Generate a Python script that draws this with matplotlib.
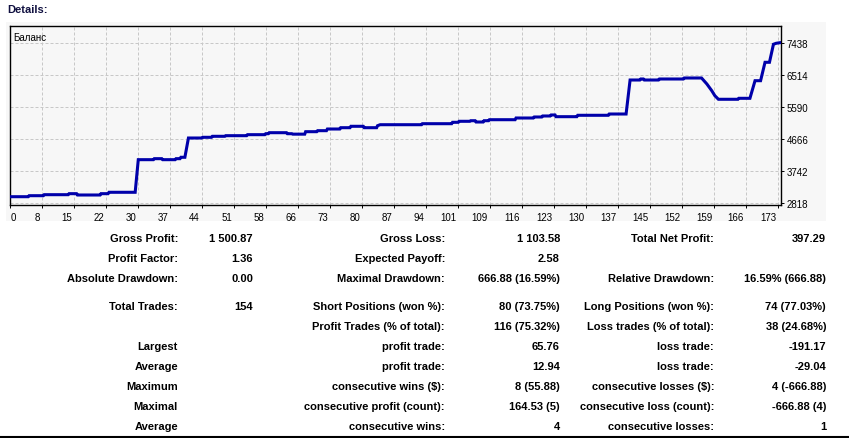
import matplotlib
matplotlib.use("Agg")
import matplotlib.pyplot as plt
import matplotlib.transforms as mtransforms
from matplotlib.patches import Rectangle
import numpy as np

# balance curve (trade number, balance)
trade_x = [0, 4.1, 4.3, 7.5, 7.7, 13.1, 13.3, 15.0, 15.2, 20.3, 20.5, 22.1, 22.3, 28.2,
           28.9, 32.3, 32.5, 34.2, 34.4, 37.2, 37.4, 38.3, 38.5, 39.4, 40.2, 43.2, 43.4,
           45.4, 45.6, 48.4, 48.6, 53.3, 53.5, 57.4, 57.6, 58.2, 58.4, 62.3, 62.5, 63.5,
           63.7, 66.4, 66.6, 69.1, 69.3, 71.3, 71.5, 74.3, 74.5, 76.6, 76.8, 79.6, 79.8,
           82.6, 82.8, 83.4, 92.7, 92.9, 99.5, 99.7, 101.0, 101.2, 103.6, 103.8, 104.8,
           105.0, 106.6, 106.8, 107.8, 108.0, 113.8, 114.0, 117.9, 118.1, 119.8, 120.0,
           121.7, 121.9, 122.8, 123.0, 127.7, 127.9, 134.8, 135.0, 138.8, 139.7, 141.9,
           142.1, 142.7, 142.9, 146.1, 146.3, 151.7, 151.9, 155.8, 157.0, 158.1, 158.8,
           159.6, 164.0, 164.2, 166.7, 167.85, 169.1, 170.1, 171.1, 172.0, 172.6, 173.7]
balance = [2999, 2999, 3028, 3028, 3057, 3057, 3086, 3086, 3048, 3048, 3086, 3086, 3126, 3126,
           4065, 4065, 4094, 4094, 4065, 4065, 4094, 4094, 4134, 4134, 4689, 4689, 4709,
           4709, 4738, 4738, 4756, 4756, 4785, 4785, 4813, 4813, 4842, 4842, 4813, 4813,
           4800, 4800, 4871, 4871, 4900, 4900, 4948, 4948, 4986, 4986, 5026, 5026, 4986,
           4986, 5043, 5072, 5072, 5101, 5101, 5141, 5141, 5170, 5170, 5187, 5187,
           5150, 5150, 5187, 5187, 5216, 5216, 5265, 5265, 5294, 5294, 5323,
           5323, 5352, 5352, 5303, 5303, 5343, 5343, 5380, 5380, 6359, 6359,
           6388, 6388, 6359, 6359, 6388, 6388, 6417, 6417, 6244, 6051, 5907,
           5804, 5804, 5832, 5832, 6339, 6339, 6869, 6869, 7388, 7416, 7438]

y_ticks = [2818, 3742, 4666, 5590, 6514, 7438]
x_labels = [0, 8, 15, 22, 30, 37, 44, 51, 58, 66, 73, 80, 87, 94, 101, 109, 116,
            123, 130, 137, 145, 152, 159, 166, 173]
x_step = 7.21

# report table
col1 = ["Gross Profit:", "Profit Factor:", "Absolute Drawdown:", "Total Trades:", "",
        "Largest", "Average", "Maximum", "Maximal", "Average"]
col2 = ["1 500.87", "1.36", "0.00", "154", "", "", "", "", "", ""]
col3 = ["Gross Loss:", "Expected Payoff:", "Maximal Drawdown:", "Short Positions (won %):",
        "Profit Trades (% of total):", "profit trade:", "profit trade:",
        "consecutive wins ($):", "consecutive profit (count):", "consecutive wins:"]
col4 = ["1 103.58", "2.58", "666.88 (16.59%)", "80 (73.75%)", "116 (75.32%)", "65.76",
        "12.94", "8 (55.88)", "164.53 (5)", "4"]
col5 = ["Total Net Profit:", "", "Relative Drawdown:", "Long Positions (won %):",
        "Loss trades (% of total):", "loss trade:", "loss trade:",
        "consecutive losses ($):", "consecutive loss (count):", "consecutive losses:"]
col6 = ["397.29", "", "16.59% (666.88)", "74 (77.03%)", "38 (24.68%)", "-191.17",
        "-29.04", "4 (-666.88)", "-666.88 (4)", "1"]
row_y = [239, 259, 279, 307, 327, 347, 367, 387, 407, 427]

W, H = 849, 439
fig = plt.figure(figsize=(W / 100, H / 100), dpi=100)
fig.patch.set_facecolor("white")

fig.patches.append(Rectangle((6 / W, 1 - 222 / H), 820 / W, 199 / H,
                             transform=fig.transFigure, facecolor="#f7f7f7",
                             edgecolor="none", zorder=-5))

ax = fig.add_axes([10 / W, 1 - 206 / H, 771 / W, 179 / H])
ax.set_zorder(2)
ax.set_facecolor("#f7f7f7")
ax.plot(trade_x, balance, color="#0000aa", lw=2.2, solid_joinstyle="miter", zorder=3)
ax.set_xlim(0, 173.7)
ax.set_ylim(2760, 7914)

for s in ax.spines.values():
    s.set_color("black")
    s.set_linewidth(1.0)

ax.yaxis.tick_right()
ax.set_yticks(y_ticks)
ax.set_yticklabels([str(v) for v in y_ticks], fontsize=7, family="Liberation Sans")
ax.tick_params(axis="y", length=2, pad=2, width=0.7)

xpos = np.arange(len(x_labels)) * x_step
ax.set_xticks(xpos)
ax.set_xticklabels([])
ax.tick_params(axis="x", length=2, width=0.7)
ax.grid(True, color="#c8c8c8", lw=0.72, linestyle=(0, (3, 2)))
ax.set_axisbelow(True)

for i, (p, lab) in enumerate(zip(xpos, x_labels)):
    if i == 0:
        off = mtransforms.ScaledTranslation(1 / 100, 0, fig.dpi_scale_trans)
        ha = "left"
    else:
        off = mtransforms.ScaledTranslation(-2 / 100, 0, fig.dpi_scale_trans)
        ha = "right"
    ax.text(p, -0.04, str(lab), transform=ax.get_xaxis_transform() + off,
            ha=ha, va="top", fontsize=7, family="Liberation Sans", clip_on=False)

ax.text(0.004, 0.965, "Баланс", transform=ax.transAxes, ha="left", va="top",
        fontsize=7, family="Liberation Sans")

fig.text(7 / W, 1 - 10 / H, "Details:", ha="left", va="center", fontsize=8,
         fontweight="bold", color="#101040", family="Liberation Sans")

cols = [(col1, 178), (col2, 253), (col3, 445), (col4, 560), (col5, 714), (col6, 826)]
for texts, xr in cols:
    for t, yy in zip(texts, row_y):
        if t:
            fig.text(xr / W, 1 - yy / H, t, ha="right", va="center", fontsize=8,
                     fontweight="bold", color="black", family="Liberation Sans")

fig.lines.append(plt.Line2D([0, 1], [1 - 438.3 / H] * 2, transform=fig.transFigure,
                            color="black", lw=1.5))

fig.savefig("out.png", dpi=100)
